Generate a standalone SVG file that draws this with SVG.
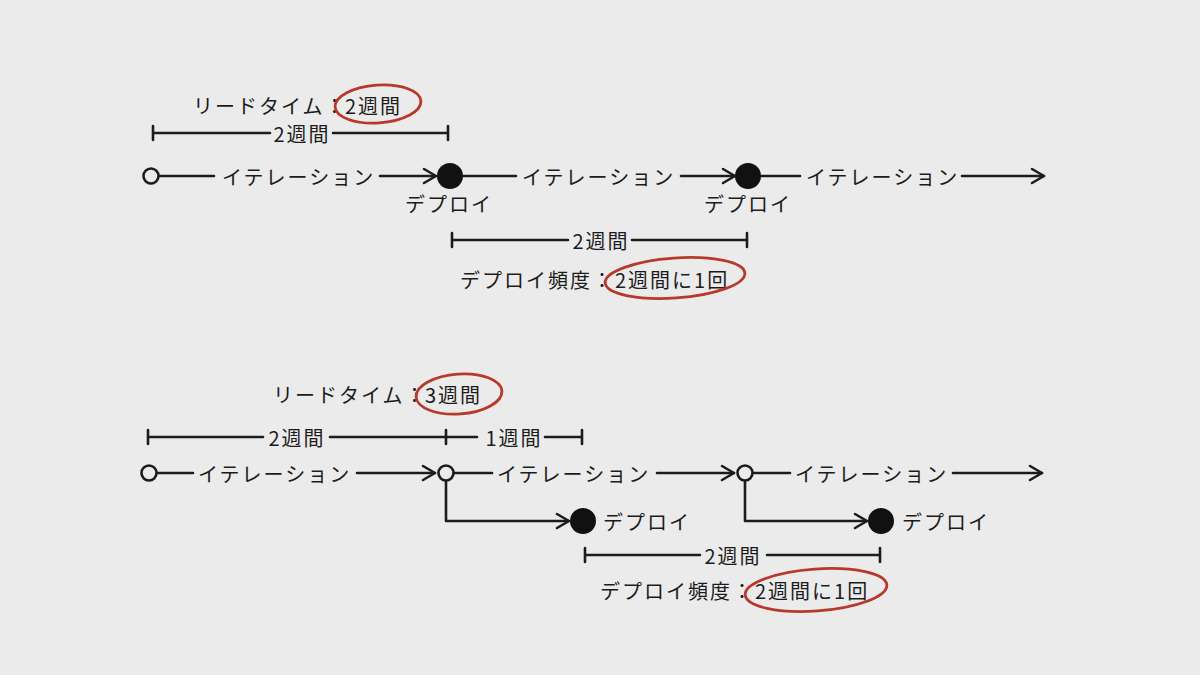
<svg xmlns="http://www.w3.org/2000/svg" width="1200" height="675" viewBox="0 0 1200 675">
<defs>
<style>
text{font-family:"Noto Sans CJK JP","Noto Sans",sans-serif;font-size:20px;fill:#1c1c1c;dominant-baseline:central;letter-spacing:2px}
.ln{stroke:#1c1c1c;stroke-width:2.6;fill:none;stroke-linecap:round;stroke-linejoin:round}
.open{fill:#ebebeb;stroke:#1c1c1c;stroke-width:2.6}
.full{fill:#111}
.red{fill:none;stroke:#b8392c;stroke-width:2.8}
.mid{text-anchor:middle}
</style>
<marker id="ah" markerUnits="userSpaceOnUse" markerWidth="18" markerHeight="18" viewBox="-2 -2 18 18" refX="12" refY="7" orient="auto">
<path d="M0,0 L12,7 L0,14" fill="none" stroke="#1c1c1c" stroke-width="2.6" stroke-linecap="round" stroke-linejoin="round"/>
</marker>
</defs>
<rect width="1200" height="675" fill="#ebebeb"/>

<g id="connectors">
<line class="ln" x1="159" y1="176" x2="214" y2="176"/>
<line class="ln" x1="380" y1="176" x2="436" y2="176" marker-end="url(#ah)"/>
<line class="ln" x1="463" y1="176" x2="516" y2="176"/>
<line class="ln" x1="681" y1="176" x2="735" y2="176" marker-end="url(#ah)"/>
<line class="ln" x1="761" y1="176" x2="800" y2="176"/>
<line class="ln" x1="962" y1="176" x2="1044" y2="176" marker-end="url(#ah)"/>
<line class="ln" x1="157" y1="473" x2="193" y2="473"/>
<line class="ln" x1="357" y1="473" x2="435" y2="473" marker-end="url(#ah)"/>
<line class="ln" x1="454" y1="473" x2="492" y2="473"/>
<line class="ln" x1="657" y1="473" x2="734" y2="473" marker-end="url(#ah)"/>
<line class="ln" x1="753" y1="473" x2="790" y2="473"/>
<line class="ln" x1="953" y1="473" x2="1042" y2="473" marker-end="url(#ah)"/>
<path class="ln" d="M446,481 V521 H569" marker-end="url(#ah)"/>
<path class="ln" d="M745,481 V521 H867" marker-end="url(#ah)"/>
</g>

<g id="dimensions">
<path class="ln" d="M153,126 V140 M153,133 H270 M333,133 H448 M448,126 V140"/>
<text class="mid" x="302" y="133">2週間</text>
<path class="ln" d="M452,233 V247 M452,240 H568 M632,240 H747 M747,233 V247"/>
<text class="mid" x="601" y="240">2週間</text>
<path class="ln" d="M148,430 V444 M148,437 H263 M330,437 H477 M446,430 V444 M545,437 H582 M582,430 V444"/>
<text class="mid" x="297" y="437">2週間</text>
<text class="mid" x="514" y="437">1週間</text>
<path class="ln" d="M585,548 V562 M585,555 H700 M767,555 H880 M880,548 V562"/>
<text class="mid" x="733" y="555">2週間</text>
</g>

<g id="top-start"><circle class="open" cx="151" cy="176" r="7.5"/></g>
<g id="top-iter1"><text x="222" y="176">イテレーション</text></g>
<g id="top-deploy1"><circle class="full" cx="450" cy="176" r="13"/><text class="mid" x="449" y="203">デプロイ</text></g>
<g id="top-iter2"><text x="522" y="176">イテレーション</text></g>
<g id="top-deploy2"><circle class="full" cx="748" cy="176" r="13"/><text class="mid" x="748" y="203">デプロイ</text></g>
<g id="top-iter3"><text x="806" y="176">イテレーション</text></g>

<g id="top-leadtime">
<text x="193" y="105">リードタイム：</text>
<text x="345" y="105">2週間</text>
<ellipse class="red" cx="378" cy="104" rx="43" ry="19" transform="rotate(-4 378 104)"/>
</g>
<g id="top-frequency">
<text x="460" y="279">デプロイ頻度：</text>
<text x="615" y="279">2週間に1回</text>
<ellipse class="red" cx="675" cy="278" rx="70" ry="20" transform="rotate(-4 675 278)"/>
</g>

<g id="bot-start"><circle class="open" cx="149" cy="473" r="7.5"/></g>
<g id="bot-iter1"><text x="198" y="473">イテレーション</text></g>
<g id="bot-mid1"><circle class="open" cx="446" cy="473" r="7.5"/></g>
<g id="bot-iter2"><text x="497" y="473">イテレーション</text></g>
<g id="bot-mid2"><circle class="open" cx="745" cy="473" r="7.5"/></g>
<g id="bot-iter3"><text x="795" y="473">イテレーション</text></g>
<g id="bot-deploy1"><circle class="full" cx="583" cy="521" r="13"/><text x="603" y="521">デプロイ</text></g>
<g id="bot-deploy2"><circle class="full" cx="881" cy="521" r="13"/><text x="902" y="521">デプロイ</text></g>

<g id="bot-leadtime">
<text x="273" y="394">リードタイム：</text>
<text x="425" y="394">3週間</text>
<ellipse class="red" cx="459" cy="394" rx="43" ry="20" transform="rotate(-4 459 394)"/>
</g>
<g id="bot-frequency">
<text x="600" y="590">デプロイ頻度：</text>
<text x="755" y="590">2週間に1回</text>
<ellipse class="red" cx="816" cy="590" rx="71" ry="21" transform="rotate(-4 816 590)"/>
</g>
</svg>
